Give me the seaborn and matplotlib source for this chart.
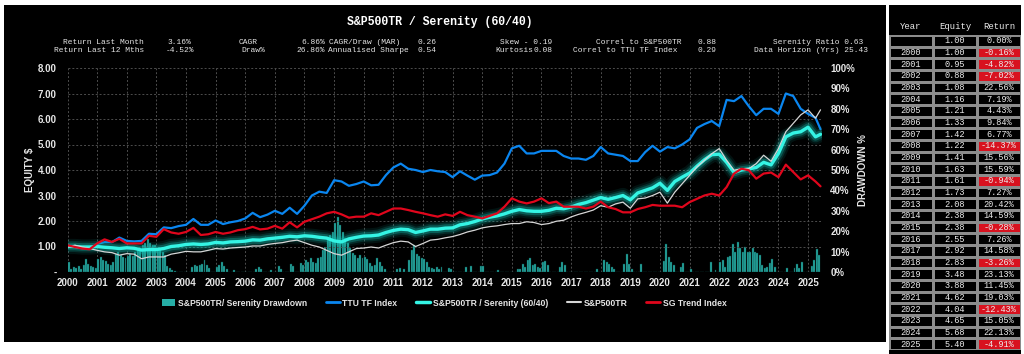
import matplotlib
matplotlib.use("Agg")
import matplotlib.pyplot as plt
import numpy as np
import seaborn as sns
from matplotlib.colors import ListedColormap
from matplotlib.lines import Line2D
from matplotlib.patches import Patch, Rectangle

# ---------------------------------------------------------------------------
# Données
# ---------------------------------------------------------------------------
# courbes : un point par trimestre (2000.00 ... 2025.25) + dernier point mai 2025
line_dates = list(np.arange(2000.0, 2025.3, 0.25)) + [2025.42]

ttu_tf_index = [
    1.00, 0.98, 0.93, 0.92,  1.10, 1.17, 1.17, 1.35,  1.22, 1.20, 1.22, 1.50,
    1.48, 1.75, 1.72, 1.80,  1.85, 2.08, 1.85, 1.85,  2.02, 1.88, 1.95, 2.00,
    2.10, 2.32, 2.15, 2.25,  2.40, 2.28, 2.52, 2.28,  2.60, 3.00, 3.15, 3.10,
    3.60, 3.55, 3.38, 3.45,  3.55, 3.40, 3.42, 3.80,  4.10, 4.25, 4.05, 4.00,
    3.92, 4.00, 3.95, 3.92,  3.72, 3.95, 3.78, 3.62,  3.78, 3.80, 3.90, 4.25,
    4.85, 4.95, 4.65, 4.65,  4.75, 4.75, 4.75, 4.55,  4.45, 4.45, 4.40, 4.55,
    4.90, 4.65, 4.60, 4.55,  4.35, 4.35, 4.70, 4.95,  4.72, 4.90, 4.85, 5.00,
    5.20, 5.65, 5.80, 5.92,  5.72, 6.75, 6.70, 6.90,  6.50, 6.15, 6.40, 6.40,
    6.20, 7.00, 6.90, 6.40,  6.20, 6.05, 5.60,
]
sg_trend_index = [
    1.05, 0.98, 0.92, 0.89,  1.12, 1.28, 1.18, 1.30,  1.12, 1.12, 1.12, 1.42,
    1.38, 1.68, 1.55, 1.50,  1.57, 1.73, 1.45, 1.48,  1.57, 1.50, 1.55, 1.64,
    1.68, 1.77, 1.67, 1.70,  1.81, 1.70, 1.95, 1.75,  1.97, 2.07, 2.17, 2.30,
    2.36, 2.26, 2.13, 2.17,  2.17, 2.30, 2.23, 2.36,  2.49, 2.49, 2.43, 2.36,
    2.30, 2.23, 2.17, 2.26,  2.20, 2.36, 2.23, 2.17,  2.10, 2.20, 2.30, 2.56,
    2.89, 2.76, 2.69, 2.76,  2.89, 2.70, 2.76, 2.56,  2.56, 2.56, 2.49, 2.56,
    2.76, 2.54, 2.47, 2.34,  2.34, 2.47, 2.54, 2.63,  2.60, 2.60, 2.60, 2.54,
    2.74, 2.87, 3.00, 3.07,  3.00, 3.33, 3.86, 4.05,  3.99, 3.66, 3.86, 3.90,
    3.72, 4.21, 3.92, 3.63,  3.79, 3.55, 3.36,
]
sp500tr = [
    0.98, 1.05, 0.98, 0.92,  0.85, 0.79, 0.76, 0.66,  0.72, 0.70, 0.52, 0.59,
    0.59, 0.59, 0.70, 0.75,  0.81, 0.79, 0.79, 0.85,  0.92, 0.90, 0.94, 0.96,
    0.98, 1.02, 1.02, 1.08,  1.12, 1.15, 1.21, 1.25,  1.15, 1.05, 0.98, 0.85,
    0.72, 0.66, 0.79, 0.92,  0.94, 0.98, 0.94, 1.05,  1.15, 1.21, 1.18, 1.00,
    1.12, 1.25, 1.28, 1.34,  1.39, 1.47, 1.57, 1.64,  1.73, 1.78, 1.81, 1.86,
    1.90, 1.90, 1.97, 1.94,  1.86, 1.90, 1.99, 2.03,  2.16, 2.26, 2.34, 2.43,
    2.60, 2.54, 2.67, 2.74,  2.50, 2.87, 2.90, 3.00,  3.13, 2.70, 3.13, 3.46,
    3.79, 4.12, 4.38, 4.64,  4.84, 4.38, 3.99, 4.05,  4.05, 4.25, 4.58, 4.34,
    4.84, 5.50, 5.83, 6.16,  6.36, 6.03, 6.36,
]
serenity_6040 = [
    1.00, 1.00, 0.98, 0.98,  1.00, 0.97, 0.95, 0.92,  0.95, 0.93, 0.86, 0.88,
    0.88, 0.92, 1.00, 1.03,  1.08, 1.10, 1.08, 1.10,  1.16, 1.14, 1.18, 1.19,
    1.21, 1.26, 1.25, 1.30,  1.33, 1.36, 1.40, 1.38,  1.42, 1.40, 1.36, 1.33,
    1.22, 1.18, 1.30, 1.36,  1.41, 1.42, 1.45, 1.55,  1.63, 1.68, 1.66, 1.55,
    1.61, 1.68, 1.68, 1.72,  1.73, 1.85, 1.90, 1.98,  2.08, 2.15, 2.20, 2.28,
    2.38, 2.45, 2.40, 2.38,  2.38, 2.42, 2.50, 2.48,  2.55, 2.65, 2.72, 2.82,
    2.92, 2.85, 2.92, 3.00,  2.83, 3.10, 3.20, 3.30,  3.48, 3.20, 3.55, 3.72,
    3.88, 4.15, 4.40, 4.60,  4.62, 4.30, 3.90, 4.00,  4.04, 4.10, 4.30, 4.20,
    4.65, 5.30, 5.45, 5.50,  5.68, 5.30, 5.40,
]

# drawdown mensuel (%) de S&P500TR / Serenity, une ligne par année
drawdown_pct = [
    4.7, 1.5, 2.5, 2.2, 3.0, 1.5, 3.5, 6.5, 4.0, 3.0, 2.5, 2.0,        # 2000
    6.5, 7.5, 6.0, 5.5, 4.0, 3.5, 5.0, 9.0, 10.0, 8.5, 7.5, 7.0,       # 2001
    8.0, 9.0, 8.0, 10.0, 11.0, 11.0, 13.0, 14.0, 16.0, 14.0, 13.0, 13.0,  # 2002
    12.0, 11.0, 10.0, 8.5, 3.0, 2.0, 1.0, 0.5, 0, 0, 0, 0,             # 2003
    0, 0, 2.5, 3.5, 3.0, 3.5, 4.0, 6.0, 3.5, 2.0, 0, 0,                # 2004
    2.5, 3.5, 5.0, 3.0, 1.5, 0, 0, 1.0, 0, 0, 0, 0,                    # 2005
    0, 0, 0, 0, 1.5, 2.5, 1.5, 0, 0, 0, 1.0, 0,                        # 2006
    0, 3.0, 1.5, 0, 0, 0, 4.0, 3.0, 0, 0, 4.5, 3.5,                    # 2007
    6.0, 4.7, 6.7, 5.0, 4.2, 6.7, 7.5, 10.8, 12.4, 15.7, 18.0, 19.8,   # 2008
    23.8, 26.8, 23.0, 19.8, 16.5, 14.0, 11.6, 9.2, 8.3, 6.7, 8.3, 6.7,  # 2009
    7.5, 6.5, 4.5, 3.0, 3.5, 7.0, 5.0, 3.0, 1.5, 0, 0, 0,              # 2010
    0, 1.5, 2.0, 0, 1.5, 0, 6.0, 11.0, 13.0, 9.0, 8.0, 7.0,            # 2011
    6.5, 5.0, 2.5, 2.0, 1.5, 2.5, 1.5, 2.5, 0, 0, 2.0, 1.5,            # 2012
    0, 0, 0, 0, 0, 2.3, 0, 3.0, 0, 0, 0, 3.0,                          # 2013
    3.0, 0, 0, 0, 0, 0, 1.2, 0, 0, 0, 0, 0,                            # 2014
    0, 0, 1.5, 1.5, 3.8, 2.6, 6.0, 7.0, 3.4, 3.8, 2.6, 2.0,            # 2015
    5.0, 5.5, 3.4, 0, 0, 0, 0, 2.6, 4.7, 3.4, 0, 0,                    # 2016
    0, 0, 0, 0, 0, 0, 0, 0, 0, 0, 1.5, 0,                              # 2017
    0, 6.0, 5.0, 4.0, 2.5, 1.5, 0, 0, 0, 4.0, 9.0, 4.0,                # 2018
    1.5, 0, 0, 0, 4.0, 0, 0, 0, 0, 0, 0, 0,                            # 2019
    0, 5.4, 13.6, 7.5, 5.0, 3.4, 0, 0, 2.6, 4.6, 0, 0,                 # 2020
    1.3, 0, 0, 0, 0, 0, 0, 0, 4.7, 0, 1.0, 0,                          # 2021
    5.1, 5.9, 2.6, 7.5, 8.0, 13.6, 10.0, 14.5, 11.6, 10.0, 12.4, 10.0,  # 2022
    10.0, 11.6, 10.0, 9.2, 8.3, 3.4, 1.8, 2.6, 4.2, 6.2, 2.6, 0,       # 2023
    0, 0, 0, 1.8, 0, 0, 1.8, 3.8, 1.8, 4.7, 0, 0,                      # 2024
    0, 2.9, 5.9, 11.1, 8.3,                                            # 2025
]
bar_dates = [2000 + (i + 0.5) / 12 for i in range(len(drawdown_pct))]

year_ticks = list(range(2000, 2026))

# tableau annuel
table_years = [""] + [str(y) for y in range(2000, 2026)]
table_equity = [1.00, 1.00, 0.95, 0.88, 1.08, 1.16, 1.21, 1.33, 1.42, 1.22,
                1.41, 1.63, 1.61, 1.73, 2.08, 2.38, 2.38, 2.55, 2.92, 2.83,
                3.48, 3.88, 4.62, 4.04, 4.65, 5.68, 5.40]
table_return = [0.00, -0.16, -4.82, -7.02, 22.56, 7.19, 4.43, 9.84, 6.77,
                -14.37, 15.56, 15.59, -0.94, 7.27, 20.42, 14.59, -0.28, 7.26,
                14.58, -3.26, 23.13, 11.45, 19.03, -12.43, 15.05, 22.13, -4.91]

stats_row1 = [("Return Last Month", 144, "right"), ("3.16%", 167, "left"),
              ("CAGR", 239, "left"), ("6.86%", 325, "right"),
              ("CAGR/Draw (MAR)", 329, "left"), ("0.26", 417, "left"),
              ("Skew - 0.19", 500, "left"), ("Correl to S&P500TR", 596, "left"),
              ("0.88", 698, "left"), ("Serenity Ratio 0.63", 773, "left")]
stats_row2 = [("Return Last 12 Mths", 144, "right"), ("-4.52%", 166, "left"),
              ("Draw%", 241, "left"), ("26.86%", 325, "right"),
              ("Annualised Sharpe", 328, "left"), ("0.54", 417, "left"),
              ("Kurtosis", 495, "left"), ("0.08", 534, "left"),
              ("Correl to TTU TF Index", 573, "left"), ("0.29", 698, "left"),
              ("Data Horizon (Yrs) 25.43", 754, "left")]

# ---------------------------------------------------------------------------
# Style
# ---------------------------------------------------------------------------
C_BLUE = "#0a86f0"
C_RED = "#e0061c"
C_WHITE = "#d6d6d6"
C_CYAN = "#34f4e4"
C_GLOW = "#14b5aa"
C_BAR = "#26aea6"
C_TXT = "#e6e6e6"
C_GRID = "#4d4d4d"

sns.set_theme(style="dark", rc={"axes.facecolor": "black",
                                "figure.facecolor": "white",
                                "text.color": C_TXT})
SANS = ["Liberation Sans Narrow", "Liberation Sans", "DejaVu Sans"]
MONO = ["Liberation Mono", "DejaVu Sans Mono"]
plt.rcParams["font.family"] = SANS

W, H = 1024, 354


def fx(px):
    return px / W


def fy(py):
    return 1 - py / H


fig = plt.figure(figsize=(W / 100, H / 100), dpi=100, facecolor="white")

# panneaux noirs (graphique + tableau)
fig.add_artist(Rectangle((fx(4), fy(342)), fx(886 - 4), (342 - 5) / H,
                         transform=fig.transFigure, facecolor="black",
                         edgecolor="none", zorder=-1))
fig.add_artist(Rectangle((fx(889), 0), fx(1021 - 889), (354 - 5) / H,
                         transform=fig.transFigure, facecolor="black",
                         edgecolor="none", zorder=-1))

# ---------------------------------------------------------------------------
# Graphique principal : drawdown (axe droit) sous les courbes (axe gauche)
# ---------------------------------------------------------------------------
ax = fig.add_axes([fx(67.5), fy(272), fx(822 - 67.5), 204 / H])
ax.set_facecolor("black")

sns.barplot(x=bar_dates, y=drawdown_pct, native_scale=True, color=C_BAR,
            saturation=1, width=0.8, errorbar=None, ax=ax,
            edgecolor="#0b3f3c", linewidth=0.3)
ax.set_ylim(0, 100)
ax.set_xlim(2000, 2025.47)
ax.set_xticks(year_ticks)
ax.set_xticklabels([str(y) for y in year_ticks])
ax.grid(axis="x", color=C_GRID, linestyle=(0, (2, 2)), linewidth=0.7)
ax.set_xlabel("")

ax2 = ax.twinx()
# twinx() remet les graduations de ax à gauche : on inverse les deux axes
ax.yaxis.tick_right()
ax.yaxis.set_label_position("right")
ax.set_yticks(range(0, 101, 10))
ax.set_yticklabels([f"{v}%" for v in range(0, 101, 10)])
ax.set_ylabel("DRAWDOWN %", fontsize=7, fontweight="bold", color=C_TXT)
ax.yaxis.set_label_coords(1.048, 0.5)

ax2.yaxis.tick_left()
ax2.yaxis.set_label_position("left")
ax2.set_ylim(0, 8)
ax2.set_yticks(range(0, 9))
ax2.set_yticklabels(["-" if v == 0 else f"{v:.2f}" for v in range(0, 9)])
ax2.grid(axis="y", color=C_GRID, linestyle=(0, (2, 2)), linewidth=0.7)
ax2.set_ylabel("EQUITY $", fontsize=7, fontweight="bold", color=C_TXT)
ax2.yaxis.set_label_coords(-0.043, 0.5)

sns.lineplot(x=line_dates, y=ttu_tf_index, color=C_BLUE, linewidth=1.6,
             ax=ax2, legend=False)
# halo du portefeuille Serenity
for lw, alpha in [(11, 0.10), (8, 0.18), (5.5, 0.35)]:
    sns.lineplot(x=line_dates, y=serenity_6040, color=C_GLOW, linewidth=lw,
                 alpha=alpha, ax=ax2, legend=False)
sns.lineplot(x=line_dates, y=serenity_6040, color=C_CYAN, linewidth=2.4,
             ax=ax2, legend=False)
sns.lineplot(x=line_dates, y=sp500tr, color=C_WHITE, linewidth=0.9,
             ax=ax2, legend=False)
sns.lineplot(x=line_dates, y=sg_trend_index, color=C_RED, linewidth=1.6,
             ax=ax2, legend=False)
ax2.set_xlim(2000, 2025.47)

for a in (ax, ax2):
    a.tick_params(length=0, labelsize=7, colors=C_TXT)
    for lab in a.get_xticklabels() + a.get_yticklabels():
        lab.set_fontweight("bold")
    for sp in a.spines.values():
        sp.set_visible(False)
ax.tick_params(axis="x", pad=4)
ax.tick_params(axis="y", pad=6)
ax2.tick_params(axis="y", pad=8)

# titre et statistiques
fig.text(fx(440), fy(22), "S&P500TR / Serenity (60/40)", ha="center",
         va="center", family=MONO, fontsize=8.3, fontweight="bold",
         color="white")
for row, ypx in ((stats_row1, 42), (stats_row2, 51)):
    for txt, xpx, ha in row:
        fig.text(fx(xpx), fy(ypx), txt, ha=ha, va="center", family=MONO,
                 fontsize=5.7, color=C_TXT)

# légende
handles = [
    Patch(facecolor=C_BAR, edgecolor="none", label="S&P500TR/ Serenity Drawdown"),
    Line2D([], [], color=C_BLUE, linewidth=2, label="TTU TF Index"),
    Line2D([], [], color=C_CYAN, linewidth=2.5, label="S&P500TR / Serenity (60/40)"),
    Line2D([], [], color=C_WHITE, linewidth=1.5, label="S&P500TR"),
    Line2D([], [], color=C_RED, linewidth=2, label="SG Trend Index"),
]
fig.legend(handles=handles, loc="center", bbox_to_anchor=(fx(444), fy(303)),
           ncol=5, frameon=False, handlelength=1.6, handletextpad=0.3,
           columnspacing=2.2, labelcolor=C_TXT,
           prop=dict(family=SANS, weight="bold", size=6.2))

# ---------------------------------------------------------------------------
# Tableau annuel
# ---------------------------------------------------------------------------
tax = fig.add_axes([fx(889), fy(350), fx(1021 - 889), (350 - 35) / H])
neg = np.zeros((len(table_years), 3))
neg[:, 2] = [1.0 if r < 0 else 0.0 for r in table_return]
annot = np.array([[y, f"{e:.2f}", f"{r:.2f}%"]
                  for y, e, r in zip(table_years, table_equity, table_return)])
sns.heatmap(neg, annot=annot, fmt="", cmap=ListedColormap(["black", "#d8121f"]),
            vmin=0, vmax=1, cbar=False, linewidths=0.9, linecolor="#8c8c8c",
            xticklabels=["Year", "Equity", "Return"], yticklabels=False,
            annot_kws=dict(family=MONO, fontsize=6.2, color="#ececec"),
            ax=tax)
tax.xaxis.tick_top()
tax.tick_params(axis="x", length=0, pad=3, labelsize=6.4, labelcolor="#ececec")
for lab in tax.get_xticklabels():
    lab.set_family(MONO)
tax.set_xlabel("")
tax.set_ylabel("")

fig.savefig("out.png", dpi=100, facecolor="white")
